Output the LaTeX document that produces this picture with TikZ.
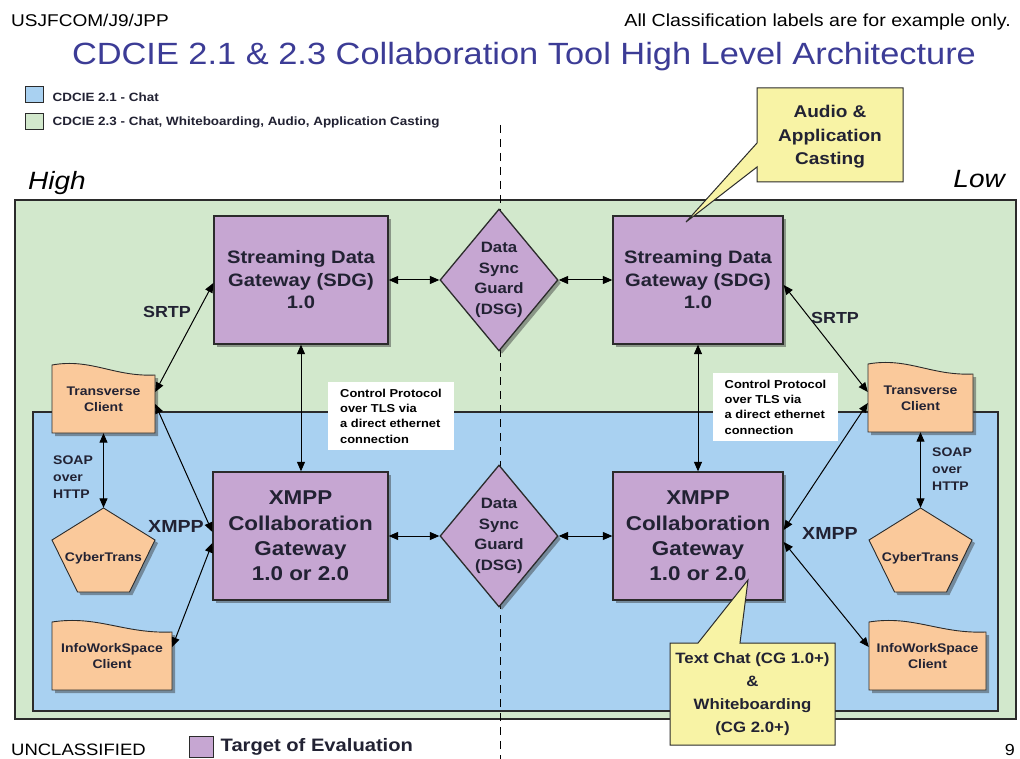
\documentclass[tikz,border=0pt]{standalone}
\usepackage{fontspec}
\setmainfont{Liberation Sans}[FakeStretch=1.12]
\usepackage{tikz}
\usetikzlibrary{arrows.meta,positioning,shapes.geometric,calc,shadows}
\definecolor{CDgreen}{HTML}{D2E8CC}
\definecolor{CDblue}{HTML}{A9D1F1}
\definecolor{CDpurple}{HTML}{C6A6D2}
\definecolor{CDorange}{HTML}{FAC99B}
\definecolor{CDyellow}{HTML}{F8F3A5}
\definecolor{CDtitle}{HTML}{3C3C96}
\definecolor{CDline}{HTML}{2B2B2B}
\definecolor{CDtext}{HTML}{222233}

\newcommand{\fsz}[2]{\fontsize{#1}{#2}\selectfont}

\tikzset{
  hdr/.style={font=\fsz{17}{20},text=black,inner sep=0pt},
  legsq/.style={draw=CDline,line width=1pt,minimum width=18pt,minimum height=16pt,inner sep=0pt},
  legtext/.style={font=\bfseries\fsz{12}{14},text=CDtext,inner sep=0pt},
  sidetext/.style={font=\itshape\fsz{25}{30},text=black,inner sep=0pt},
  zonebox/.style={draw=CDline,line width=1.6pt},
  toeshadow/.style={drop shadow={shadow xshift=3pt,shadow yshift=-3pt,opacity=.45,fill=black!80}},
  toebox/.style={draw=CDline,line width=1.3pt,fill=CDpurple,toeshadow,text=CDtext,align=center,inner sep=0pt},
  sdgbox/.style={toebox,minimum width=174pt,minimum height=128pt,font=\bfseries\fsz{18}{22.5}},
  xmppbox/.style={toebox,minimum width=175pt,minimum height=128pt,font=\bfseries\fsz{20}{25.3}},
  guard/.style={toebox,diamond,aspect=0.83,minimum width=118pt,minimum height=142pt,font=\bfseries\fsz{15}{20.5}},
  clientfill/.style={draw=CDline,line width=0.9pt,fill=CDorange,toeshadow},
  clienttext/.style={font=\bfseries\fsz{12.5}{16},text=CDtext,align=center,inner sep=0pt},
  proto/.style={font=\bfseries\fsz{16}{20},text=CDtext,inner sep=0pt},
  soap/.style={font=\bfseries\fsz{12.5}{17},text=CDtext,align=left,inner sep=0pt},
  ctrl/.style={fill=white,font=\bfseries\fsz{11.5}{15.3},text=black,align=left,inner xsep=12pt,inner ysep=7pt},
  bubble/.style={draw=CDline,line width=1pt,fill=CDyellow},
  bubbletext/.style={font=\bfseries\fsz{17}{23.5},text=CDtext,align=center,inner sep=0pt},
  biarrow/.style={{Triangle[length=9.5pt,width=8pt]}-{Triangle[length=9.5pt,width=8pt]},line width=1pt,draw=black},
  guardline/.style={draw=black,line width=0.9pt,dash pattern=on 8pt off 6pt}
}

% client with wavy top: name, x, y, width, text
\newcommand{\clientnode}[5]{%
  \path[clientfill] ($(#2,#3)+(-#4/2,34)$) -- ($(#2,#3)+(#4/2,34)$) -- ($(#2,#3)+(#4/2,-24)$)
    .. controls ($(#2,#3)+(0.1*#4,-22)$) and ($(#2,#3)+(-0.12*#4,-41)$) .. ($(#2,#3)+(-#4/2,-34)$) -- cycle;
  \node[clienttext,minimum width=#4pt,minimum height=68pt] (#1) at (#2,#3) {#5};}

% pentagon: name, x, y, text
\newcommand{\cybernode}[4]{%
  \path[clientfill] ($(#2,#3)+(0,-42)$) -- ($(#2,#3)+(51.5,-10)$) -- ($(#2,#3)+(26,42)$)
    -- ($(#2,#3)+(-26,42)$) -- ($(#2,#3)+(-51.5,-10)$) -- cycle;
  \node[clienttext,minimum width=103pt,minimum height=100pt] (#1) at ($(#2,#3)+(0,8)$) {#4};}

\begin{document}
\begin{tikzpicture}[x=1pt,y=-1pt]
\useasboundingbox (0,0) rectangle (1020,759);
\fill[white] (0,0) rectangle (1020,759);

% headings
\node[hdr,anchor=base west] (org) at (11,27) {USJFCOM/J9/JPP};
\node[hdr,font=\fsz{17.5}{20},anchor=base east] (note) at (1011,27) {All Classification labels are for example only.};
\node[font=\fsz{30.7}{36},text=CDtitle,inner sep=0pt,anchor=base] (title) at (524,65) {CDCIE 2.1 \& 2.3 Collaboration Tool High Level Architecture};

% legend
\node[legsq,fill=CDblue] (legChat) at (34,95) {};
\node[legtext,right=9pt of legChat,yshift=-2pt] (legChatTxt) {CDCIE 2.1 - Chat};
\node[legsq,fill=CDgreen] (legFull) at (34,121.5) {};
\node[legtext,right=9pt of legFull,yshift=-1pt] (legFullTxt) {CDCIE 2.3 - Chat, Whiteboarding, Audio, Application Casting};

\node[sidetext,anchor=base west] (high) at (28,190) {High};
\node[sidetext,anchor=base east] (low) at (1005,188) {Low};

% regions
\draw[zonebox,fill=CDgreen] (15,200) rectangle (1016,719);
\draw[zonebox,fill=CDblue] (33,412) rectangle (998,711);
\draw[guardline] (500,125) -- (500,759);

% targets of evaluation
\node[sdgbox] (sdgL) at (301,280) {Streaming Data\\Gateway (SDG)\\1.0};
\node[sdgbox,minimum width=170pt] (sdgR) at (698,280) {Streaming Data\\Gateway (SDG)\\1.0};
\node[xmppbox] (xmppL) at (300.5,536) {XMPP\\Collaboration\\Gateway\\1.0 or 2.0};
\node[xmppbox,minimum width=170pt] (xmppR) at (698,536) {XMPP\\Collaboration\\Gateway\\1.0 or 2.0};
\node[guard] (dsgU) at (499,280) {Data\\Sync\\Guard\\(DSG)};
\node[guard] (dsgD) at (499,536) {Data\\Sync\\Guard\\(DSG)};

% clients
\clientnode{tcL}{103.5}{399}{103}{Transverse\\Client}
\clientnode{iwL}{112}{656}{120}{InfoWorkSpace\\Client}
\clientnode{tcR}{920.5}{398}{105}{Transverse\\Client}
\clientnode{iwR}{927.5}{656}{117}{InfoWorkSpace\\Client}
\cybernode{cyL}{103.5}{550}{CyberTrans}
\cybernode{cyR}{920.5}{550}{CyberTrans}

% links
\draw[biarrow] (sdgL.east) -- (dsgU.west);
\draw[biarrow] (dsgU.east) -- (sdgR.west);
\draw[biarrow] (xmppL.east) -- (dsgD.west);
\draw[biarrow] (dsgD.east) -- (xmppR.west);
\draw[biarrow] (sdgL.south) -- (sdgL.south |- xmppL.north);
\draw[biarrow] (sdgR.south) -- (sdgR.south |- xmppR.north);
\draw[biarrow] ($(tcL.east)+(0,-7)$) -- ($(sdgL.west)+(0,3)$);
\draw[biarrow] ($(tcL.east)+(0,5)$) -- ($(xmppL.west)+(0,-4)$);
\draw[biarrow] ($(iwL.east)+(0,-9)$) -- ($(xmppL.west)+(0,7)$);
\draw[biarrow] (tcL.south) -- (cyL.north);
\draw[biarrow] ($(sdgR.east)+(0,5)$) -- ($(tcR.west)+(0,-6)$);
\draw[biarrow] ($(xmppR.east)+(0,-6)$) -- ($(tcR.west)+(0,5)$);
\draw[biarrow] ($(xmppR.east)+(0,6)$) -- ($(iwR.west)+(0,-9)$);
\draw[biarrow] (tcR.south) -- (cyR.north);

% link labels
\node[proto] (srtpL) at (167,312) {SRTP};
\node[proto] (srtpR) at (835,318) {SRTP};
\node[proto,font=\bfseries\fsz{17.5}{20}] (xmppLblL) at (176,526) {XMPP};
\node[proto,font=\bfseries\fsz{17.5}{20}] (xmppLblR) at (830,533) {XMPP};
\node[soap,anchor=west] (soapL) at (53,477) {SOAP\\over\\HTTP};
\node[soap,anchor=west] (soapR) at (932,469) {SOAP\\over\\HTTP};
\node[ctrl] (ctrlL) at (391,416) {Control Protocol\\over TLS via\\a direct ethernet\\connection};
\node[ctrl] (ctrlR) at (775.5,407) {Control Protocol\\over TLS via\\a direct ethernet\\connection};

% callouts
\coordinate (calAtip) at (686,222);
\draw[bubble] (757,88) -- (903,88) -- (903,182) -- (757,182) -- (757,167) -- (calAtip) -- (757,143) -- cycle;
\node[bubbletext] (calA) at (830,137) {Audio \&\\Application\\Casting};
\coordinate (calBtip) at (748,580);
\draw[bubble] (670,643) -- (698,643) -- (calBtip) -- (740,643) -- (835,643) -- (835,745) -- (670,745) -- cycle;
\node[bubbletext,font=\bfseries\fsz{15}{23}] (calB) at (752.5,694) {Text Chat (CG 1.0+)\\\&\\Whiteboarding\\(CG 2.0+)};

% footer
\node[hdr,font=\fsz{16.5}{20},anchor=base west] (classif) at (11,755) {UNCLASSIFIED};
\node[legsq,fill=CDpurple,minimum width=24pt,minimum height=21pt] (legToe) at (201,747) {};
\node[font=\bfseries\fsz{18}{22},text=CDtext,inner sep=0pt,right=7pt of legToe] (legToeTxt) {Target of Evaluation};
\node[hdr,font=\fsz{16}{20},anchor=base east] (pageno) at (1015,755) {9};
\end{tikzpicture}
\end{document}
